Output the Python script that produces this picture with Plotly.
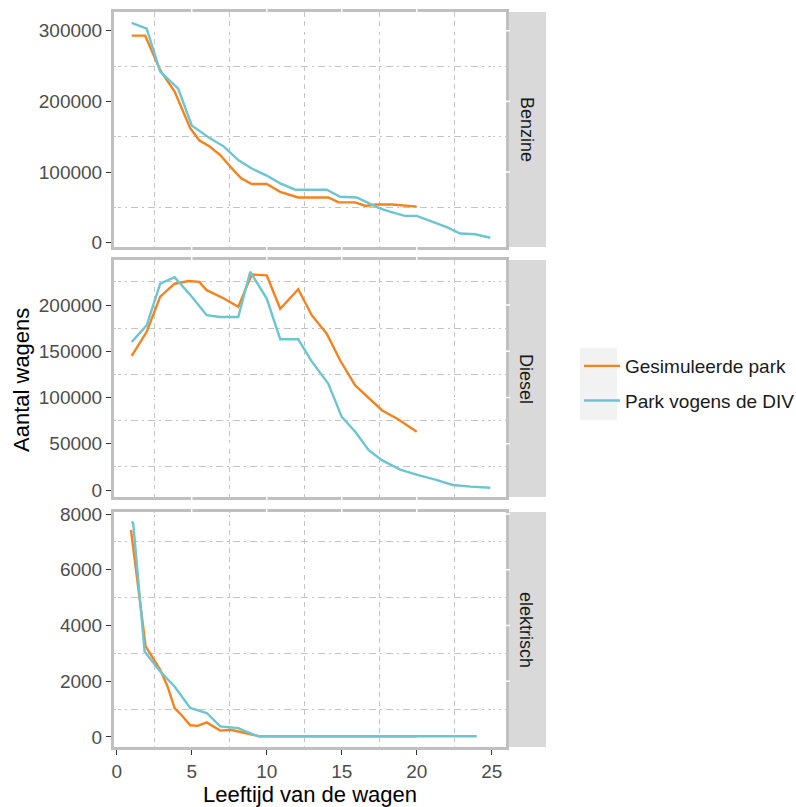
import plotly.graph_objects as go
from plotly.subplots import make_subplots

# ---------------- data ----------------
facets = ["Benzine", "Diesel", "elektrisch"]
series_names = ["Gesimuleerde park", "Park vogens de DIV"]

benzine_sim_x = [1, 1.9, 2.9, 3.86, 4.9, 5.5, 6.2, 6.9, 7.6, 8.3, 9, 10, 10.9, 12.1, 14.1, 14.8, 15.9, 16.6, 17.3, 18.4, 20]
benzine_sim_y = [293000, 293000, 244000, 214000, 162000, 145000, 136000, 124000, 107000, 91000, 83000, 83000, 72000, 64000, 64000, 57000, 57000, 52000, 54000, 54000, 51000]
benzine_div_x = [1, 2, 2.9, 4.1, 5, 6.2, 7.15, 8.1, 9, 10, 10.9, 11.9, 14, 14.9, 16, 16.8, 17.5, 18.2, 19.2, 20, 21, 22, 22.9, 23.9, 24.9]
benzine_div_y = [311000, 303000, 242000, 218000, 166000, 148000, 136000, 117000, 105000, 95000, 84000, 75000, 75000, 65000, 64000, 56000, 49000, 44000, 38000, 38000, 30000, 22000, 13000, 12000, 7000]

diesel_sim_x = [1, 2, 2.9, 3.86, 4.8, 5.5, 6, 7.15, 8.1, 9, 10, 10.9, 12.1, 13, 14, 14.9, 15.9, 16.8, 17.7, 18.7, 20]
diesel_sim_y = [145000, 171000, 209000, 223000, 226000, 225000, 216000, 207000, 198000, 233000, 232000, 196000, 217000, 189000, 169000, 140000, 113000, 99000, 86000, 77000, 63000]
diesel_div_x = [1, 2, 2.9, 3.86, 4.9, 6, 6.9, 8.1, 8.9, 10, 10.9, 12.1, 13, 14.1, 15, 15.9, 16.8, 17.7, 18.9, 20.1, 21.3, 22.4, 23.6, 24.9]
diesel_div_y = [160000, 178000, 223000, 230000, 211000, 189000, 187000, 187000, 236000, 207000, 163000, 163000, 139000, 115000, 79000, 63000, 43000, 32000, 22000, 16000, 11000, 5400, 3600, 2500]

elek_sim_x = [0.95, 1.74, 1.93, 2.9, 3.4, 3.86, 4.3, 4.9, 5.4, 6, 6.9, 7.6, 8.6, 9.5, 20]
elek_sim_y = [7430, 4080, 3250, 2410, 1800, 1040, 800, 420, 400, 525, 230, 260, 140, 25, 25]
elek_div_x = [1, 1.1, 1.86, 2.9, 3.86, 4.9, 6, 6.9, 8.1, 9, 9.5, 24]
elek_div_y = [7730, 7670, 3070, 2350, 1810, 1040, 860, 380, 320, 110, 25, 25]

x_ticks = [0, 5, 10, 15, 20, 25]
y_ticks = [[0, 100000, 200000, 300000],
           [0, 50000, 100000, 150000, 200000],
           [0, 2000, 4000, 6000, 8000]]

# ---------------- style ----------------
ORANGE = "#F5821F"
CYAN = "#6CC5D1"
BORDER = "#C0C0C0"
GRID = "#C4C4C4"
TICKTXT = "#4D4D4D"
FONT = "Liberation Sans, Arial, sans-serif"

W, H = 796, 807
L, R, T, B = 114, 290, 12, 60
plot_w = W - L - R
plot_h = H - T - B

def py(px):  # pixel y -> paper y
    return (H - B - px) / plot_h

def pxx(px):  # pixel x -> paper x
    return (px - L) / plot_w

panel_px = [(12, 247), (260, 497), (512, 747)]

fig = make_subplots(rows=3, cols=1, shared_xaxes=True, vertical_spacing=0.02)

data = [
    (benzine_sim_x, benzine_sim_y, benzine_div_x, benzine_div_y),
    (diesel_sim_x, diesel_sim_y, diesel_div_x, diesel_div_y),
    (elek_sim_x, elek_sim_y, elek_div_x, elek_div_y),
]
for i, (sx, sy, dx, dy) in enumerate(data):
    fig.add_trace(go.Scatter(x=sx, y=sy, mode="lines", name=series_names[0],
                             line=dict(color=ORANGE, width=2.4), legendgroup="a",
                             showlegend=(i == 0)), row=i + 1, col=1)
    fig.add_trace(go.Scatter(x=dx, y=dy, mode="lines", name=series_names[1],
                             line=dict(color=CYAN, width=2.4), legendgroup="b",
                             showlegend=(i == 0)), row=i + 1, col=1)

y_ranges = [[-6085, 326460], [-7568, 248650], [-359, 8072]]
y_dtick = [100000, 50000, 2000]

for i in range(3):
    top, bot = panel_px[i]
    dom = [py(bot), py(top)]
    fig.update_yaxes(row=i + 1, col=1, domain=dom, range=y_ranges[i], tickvals=y_ticks[i],
                     tickformat="d", showline=True, mirror=True, linecolor=BORDER,
                     linewidth=3, ticks="outside", ticklen=5, tickwidth=1.3, tickcolor="#333333",
                     tickfont=dict(size=19, color=TICKTXT, family=FONT), automargin=False,
                     showgrid=True, gridcolor="white", gridwidth=1.5, zeroline=False,
                     minor=dict(dtick=y_dtick[i] / 2, tick0=0, showgrid=True, gridcolor=GRID,
                                griddash="7px,4px,2px,4px", gridwidth=1.2, ticks=""))
    fig.update_xaxes(row=i + 1, col=1, domain=[0, 1], range=[-0.18, 25.95], tickvals=x_ticks,
                     showline=True, mirror=True, linecolor=BORDER, linewidth=3,
                     ticks="outside" if i == 2 else "", ticklen=5, tickwidth=1.3, tickcolor="#333333",
                     showticklabels=(i == 2), automargin=False,
                     tickfont=dict(size=19, color=TICKTXT, family=FONT),
                     showgrid=True, gridcolor="white", gridwidth=1.5, zeroline=False,
                     minor=dict(dtick=2.5, tick0=0, showgrid=True, gridcolor=GRID,
                                griddash="5px,4px", gridwidth=1.2, ticks=""))

fig.update_xaxes(row=3, col=1, title=dict(text="Leeftijd van de wagen", standoff=2,
                                          font=dict(size=22, color="black", family=FONT)))

shapes = []
annotations = []
for i, name in enumerate(facets):
    top, bot = panel_px[i]
    shapes.append(dict(type="rect", xref="paper", yref="paper", x0=pxx(507), x1=pxx(546),
                       y0=py(bot), y1=py(top), fillcolor="#D9D9D9", line=dict(width=0), layer="below"))
    annotations.append(dict(text=name, xref="paper", yref="paper", x=pxx(526.5),
                            y=py((top + bot) / 2), showarrow=False, textangle=90,
                            font=dict(size=18, color="#1A1A1A", family=FONT),
                            xanchor="center", yanchor="middle"))
    # white major grid lines cutting the panel border (ggplot look)
    xref = "x" if i == 0 else f"x{i + 1}"
    yref = "y" if i == 0 else f"y{i + 1}"
    for xv in x_ticks[1:-1]:
        for (a, b) in ((top - 4, top + 0.5), (bot - 0.5, bot + 4)):
            if i == 2 and a > bot - 1:
                continue
            shapes.append(dict(type="line", xref=xref, yref="paper", x0=xv, x1=xv,
                               y0=py(b), y1=py(a), line=dict(color="white", width=1.5),
                               layer="above"))
    for yv in y_ticks[i][1:]:
        shapes.append(dict(type="line", xref="paper", yref=yref, x0=pxx(505.5), x1=pxx(510),
                           y0=yv, y1=yv, line=dict(color="white", width=1.5), layer="above"))

# legend key background
shapes.append(dict(type="rect", xref="paper", yref="paper", x0=pxx(580), x1=pxx(617),
                   y0=py(420), y1=py(348), fillcolor="#F2F2F2", line=dict(width=0), layer="below"))

annotations.append(dict(text="Aantal wagens", xref="paper", yref="paper", x=pxx(22), y=py(380),
                        showarrow=False, textangle=-90, xanchor="center", yanchor="middle",
                        font=dict(size=22, color="black", family=FONT)))

fig.update_layout(
    width=W, height=H,
    margin=dict(l=L, r=R, t=T, b=B, autoexpand=False),
    paper_bgcolor="white", plot_bgcolor="white",
    shapes=shapes, annotations=annotations,
    legend=dict(x=pxx(579), y=py(347), xanchor="left", yanchor="top",
                font=dict(size=19, color="#1A1A1A", family=FONT),
                bgcolor="rgba(0,0,0,0)", tracegroupgap=7, itemwidth=36),
    font=dict(family=FONT),
)

fig.write_html("out.html", config={"displayModeBar": False},
               post_script="document.body.style.margin='0';document.body.style.overflow='hidden';")
